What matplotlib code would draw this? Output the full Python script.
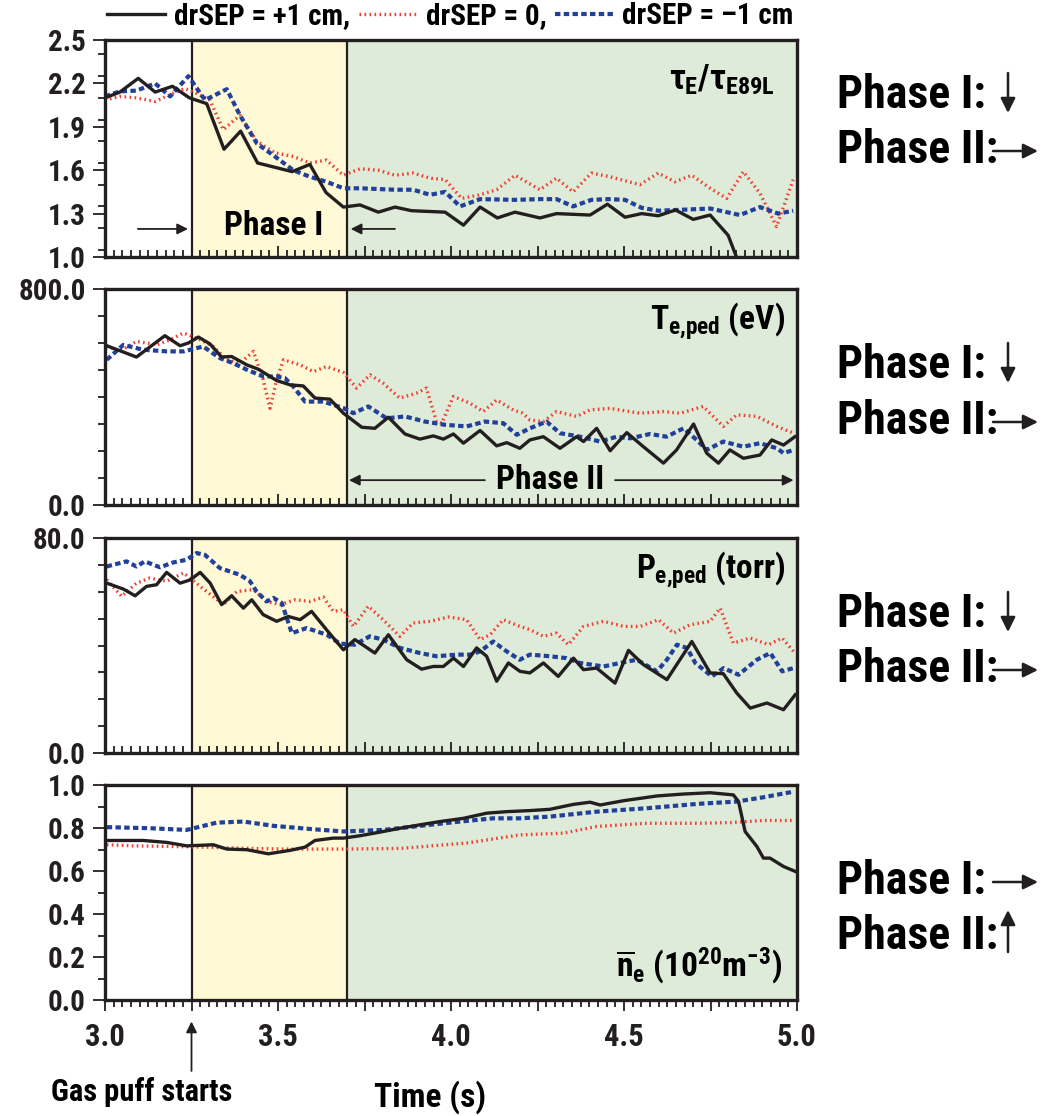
import numpy as np
import matplotlib
matplotlib.use('Agg')
from matplotlib import pyplot as plt
from matplotlib import font_manager
from matplotlib.lines import Line2D
from matplotlib.ticker import MultipleLocator, FixedLocator, FuncFormatter

# ---- data (time in s) ----
# tau_E / tau_E89L
tau_t_plus = [3.0, 3.043, 3.096, 3.145, 3.195, 3.244, 3.294, 3.344, 3.392, 3.441, 3.541, 3.592, 3.639,
              3.689, 3.737, 3.790, 3.838, 3.886, 3.983, 4.036, 4.084, 4.134, 4.185, 4.257, 4.305, 4.402,
              4.452, 4.503, 4.551, 4.599, 4.649, 4.700, 4.749, 4.801, 4.825, 4.85]
tau_plus = [2.10, 2.14, 2.235, 2.14, 2.18, 2.10, 2.06, 1.745, 1.87, 1.65, 1.59, 1.64, 1.445,
            1.345, 1.36, 1.31, 1.345, 1.32, 1.31, 1.22, 1.345, 1.27, 1.31, 1.27, 1.30, 1.29,
            1.365, 1.275, 1.30, 1.285, 1.325, 1.26, 1.29, 1.15, 1.0, 0.85]
tau_t_zero = [3.0, 3.043, 3.091, 3.145, 3.195, 3.231, 3.265, 3.303, 3.342, 3.390, 3.439, 3.491, 3.544,
              3.592, 3.640, 3.689, 3.737, 3.790, 3.838, 3.891, 3.939, 3.983, 4.031, 4.084, 4.132, 4.185,
              4.257, 4.305, 4.353, 4.406, 4.459, 4.546, 4.599, 4.647, 4.696, 4.749, 4.797, 4.845, 4.893,
              4.941, 4.989]
tau_zero = [2.085, 2.11, 2.10, 2.075, 2.13, 2.165, 2.13, 2.085, 1.88, 1.98, 1.80, 1.72, 1.695,
            1.65, 1.67, 1.565, 1.61, 1.60, 1.565, 1.58, 1.545, 1.535, 1.405, 1.43, 1.465, 1.565,
            1.465, 1.545, 1.45, 1.58, 1.555, 1.50, 1.58, 1.52, 1.565, 1.475, 1.405, 1.59, 1.44,
            1.21, 1.535]
tau_t_minus = [3.0, 3.043, 3.091, 3.145, 3.188, 3.241, 3.289, 3.352, 3.390, 3.439, 3.491, 3.544, 3.592,
               3.640, 3.689, 3.737, 3.838, 3.891, 3.939, 3.983, 4.026, 4.084, 4.185, 4.257, 4.305,
               4.353, 4.406, 4.455, 4.503, 4.551, 4.599, 4.652, 4.749, 4.835, 4.893, 4.946, 4.989]
tau_minus = [2.11, 2.145, 2.15, 2.20, 2.11, 2.25, 2.085, 2.16, 1.98, 1.785, 1.695, 1.60, 1.555,
             1.52, 1.475, 1.475, 1.465, 1.465, 1.43, 1.45, 1.35, 1.40, 1.395, 1.40, 1.40,
             1.35, 1.395, 1.40, 1.395, 1.34, 1.32, 1.325, 1.335, 1.29, 1.345, 1.30, 1.32]

# T_e,ped (eV)
te_t_plus = [3.005, 3.091, 3.173, 3.217, 3.241, 3.270, 3.303, 3.337, 3.366, 3.410, 3.443, 3.496, 3.535,
             3.573, 3.607, 3.650, 3.689, 3.742, 3.780, 3.819, 3.867, 3.910, 3.949, 3.978, 4.007, 4.036,
             4.084, 4.132, 4.161, 4.199, 4.228, 4.267, 4.315, 4.363, 4.383, 4.421, 4.460, 4.508, 4.556,
             4.614, 4.652, 4.701, 4.739, 4.773, 4.806, 4.845, 4.893, 4.927, 4.961, 4.994]
te_plus = [590, 548, 627, 590, 600, 622, 597, 548, 550, 519, 503, 461, 445,
           441, 396, 392, 340, 288, 284, 325, 263, 244, 256, 244, 263, 229,
           276, 219, 231, 210, 241, 253, 210, 253, 235, 284, 201, 268, 216,
           155, 204, 300, 192, 155, 204, 173, 185, 241, 222, 253]
te_t_zero = [3.005, 3.043, 3.091, 3.150, 3.188, 3.227, 3.275, 3.313, 3.352, 3.390, 3.429, 3.457, 3.477,
             3.496, 3.516, 3.564, 3.602, 3.640, 3.689, 3.727, 3.766, 3.804, 3.852, 3.900, 3.929, 3.958,
             3.973, 4.007, 4.055, 4.093, 4.132, 4.180, 4.207, 4.228, 4.267, 4.305, 4.363, 4.402, 4.459,
             4.546, 4.614, 4.662, 4.729, 4.787, 4.826, 4.884, 4.942, 4.990]
te_zero = [587, 569, 606, 593, 612, 637, 612, 587, 538, 525, 569, 464, 358,
           464, 538, 519, 494, 513, 491, 433, 482, 451, 396, 414, 433, 309,
           303, 402, 377, 346, 389, 352, 340, 315, 309, 346, 328, 352, 358,
           340, 346, 340, 365, 291, 334, 328, 291, 266]
te_t_minus = [3.005, 3.053, 3.110, 3.178, 3.227, 3.284, 3.332, 3.371, 3.410, 3.457, 3.496, 3.520, 3.544,
              3.578, 3.631, 3.660, 3.689, 3.718, 3.761, 3.814, 3.867, 3.925, 3.983, 4.045, 4.098, 4.151,
              4.190, 4.228, 4.276, 4.315, 4.373, 4.431, 4.479, 4.518, 4.575, 4.623, 4.672, 4.710, 4.739,
              4.787, 4.845, 4.893, 4.942, 4.961, 4.990]
te_minus = [538, 593, 575, 569, 569, 587, 544, 525, 501, 476, 476, 470, 439,
            383, 383, 371, 359, 340, 365, 321, 328, 309, 297, 291, 309, 303,
            260, 284, 309, 266, 253, 235, 253, 247, 263, 253, 284, 241, 204,
            235, 216, 229, 210, 192, 204]

# P_e,ped (torr)
pe_t_plus = [3.005, 3.053, 3.087, 3.120, 3.149, 3.178, 3.217, 3.246, 3.275, 3.304, 3.337, 3.366, 3.400,
             3.424, 3.457, 3.496, 3.530, 3.564, 3.597, 3.640, 3.689, 3.722, 3.780, 3.819, 3.872, 3.915,
             3.949, 3.978, 4.007, 4.036, 4.074, 4.103, 4.132, 4.166, 4.199, 4.228, 4.267, 4.310, 4.354,
             4.383, 4.421, 4.474, 4.513, 4.556, 4.624, 4.696, 4.749, 4.787, 4.826, 4.865, 4.913, 4.961,
             4.995]
pe_plus = [63.2, 61.0, 58.5, 62.0, 62.6, 67.2, 63.2, 64.4, 67.2, 63.2, 55.2, 58.5, 53.9,
           57.0, 51.5, 49.0, 50.8, 49.6, 52.7, 45.9, 38.4, 42.2, 37.2, 44.0, 34.7, 31.2,
           32.2, 32.2, 35.3, 32.2, 39.1, 36.0, 26.7, 33.5, 30.4, 29.8, 33.5, 28.5, 35.3,
           31.0, 31.6, 26.0, 38.2, 32.9, 27.3, 41.5, 29.8, 29.5, 22.3, 16.7, 18.6, 16.1,
           21.7]
pe_t_zero = [3.005, 3.048, 3.091, 3.130, 3.178, 3.227, 3.275, 3.342, 3.381, 3.429, 3.468, 3.506, 3.549,
             3.593, 3.631, 3.660, 3.689, 3.718, 3.761, 3.804, 3.852, 3.891, 3.939, 3.992, 4.045, 4.084,
             4.113, 4.151, 4.199, 4.228, 4.267, 4.305, 4.339, 4.383, 4.441, 4.499, 4.547, 4.600, 4.643,
             4.691, 4.749, 4.778, 4.816, 4.865, 4.918, 4.957, 4.990]
pe_zero = [64.5, 58.3, 63.2, 65.1, 63.9, 67.0, 62.0, 55.2, 60.1, 60.8, 56.4, 55.2, 57.0,
           56.4, 58.0, 52.7, 53.3, 47.1, 54.6, 49.6, 43.4, 48.4, 49.0, 50.6, 49.6, 42.2,
           44.0, 49.6, 47.1, 45.9, 43.4, 44.6, 40.3, 47.1, 49.0, 47.1, 47.1, 49.6, 44.6,
           47.7, 49.0, 53.9, 40.9, 42.8, 40.3, 42.8, 37.8]
pe_t_minus = [3.005, 3.062, 3.091, 3.115, 3.159, 3.197, 3.236, 3.265, 3.289, 3.332, 3.390, 3.419, 3.438,
              3.467, 3.487, 3.511, 3.540, 3.583, 3.641, 3.679, 3.722, 3.765, 3.804, 3.852, 3.910, 3.958,
              4.016, 4.055, 4.084, 4.122, 4.161, 4.199, 4.228, 4.286, 4.334, 4.373, 4.441, 4.489, 4.537,
              4.595, 4.624, 4.653, 4.682, 4.706, 4.754, 4.788, 4.831, 4.884, 4.923, 4.957, 4.990]
pe_minus = [69.4, 71.3, 69.4, 71.3, 69.1, 70.9, 71.9, 74.4, 73.7, 68.8, 66.3, 63.9, 60.1,
            56.4, 57.7, 55.8, 44.6, 46.5, 44.0, 40.7, 40.3, 43.4, 42.2, 39.1, 37.2, 36.0,
            36.6, 36.6, 37.8, 41.5, 37.8, 34.7, 36.6, 36.0, 35.3, 33.5, 32.2, 33.5, 34.7,
            30.4, 34.7, 40.3, 39.1, 33.5, 28.5, 31.6, 29.1, 34.7, 37.2, 30.4, 31.6]

# line-averaged n_e (1e20 m^-3)
ne_t_plus = [3.005, 3.111, 3.178, 3.236, 3.313, 3.352, 3.410, 3.472, 3.535, 3.578, 3.607, 3.660, 3.689,
             3.737, 3.805, 3.853, 3.911, 3.968, 4.036, 4.103, 4.161, 4.228, 4.286, 4.354, 4.402, 4.431,
             4.499, 4.595, 4.672, 4.749, 4.816, 4.831, 4.850, 4.884, 4.903, 4.922, 4.961, 4.995]
ne_plus = [0.742, 0.742, 0.733, 0.717, 0.722, 0.702, 0.699, 0.680, 0.696, 0.711, 0.742, 0.753, 0.753,
           0.764, 0.784, 0.799, 0.815, 0.830, 0.845, 0.869, 0.876, 0.881, 0.887, 0.910, 0.920, 0.907,
           0.927, 0.949, 0.958, 0.964, 0.954, 0.923, 0.784, 0.714, 0.660, 0.660, 0.621, 0.598]
ne_t_zero = [3.005, 3.082, 3.197, 3.294, 3.390, 3.515, 3.689, 3.853, 4.045, 4.199, 4.325, 4.421, 4.566,
             4.711, 4.807, 4.903, 4.990]
ne_zero = [0.722, 0.717, 0.714, 0.711, 0.706, 0.702, 0.702, 0.705, 0.730, 0.768, 0.776, 0.807, 0.822,
           0.822, 0.825, 0.835, 0.835]
ne_t_minus = [3.005, 3.130, 3.236, 3.323, 3.400, 3.487, 3.603, 3.689, 3.805, 3.911, 4.026, 4.122, 4.199,
              4.286, 4.421, 4.566, 4.711, 4.826, 4.903, 4.990]
ne_minus = [0.804, 0.799, 0.791, 0.825, 0.830, 0.810, 0.794, 0.784, 0.791, 0.810, 0.830, 0.845, 0.845,
            0.853, 0.876, 0.892, 0.912, 0.923, 0.943, 0.969]

gas_puff = 3.25
phase2_start = 3.70
labels = ['drSEP = +1 cm,', 'drSEP = 0,', 'drSEP = –1 cm']

# ---- fonts: a condensed bold sans, close to Helvetica Condensed ----
names = {f.name for f in font_manager.fontManager.ttflist}
font = 'DejaVu Sans'
for cand in ['Roboto Condensed', 'Liberation Sans Narrow', 'IBM Plex Sans Condensed', 'Liberation Sans']:
    if cand in names:
        font = cand
        break
plt.rcParams['font.family'] = [font, 'DejaVu Sans']
plt.rcParams['font.weight'] = 'bold'
plt.rcParams['mathtext.fontset'] = 'custom'
for k in ['rm', 'it', 'bf', 'sf']:
    plt.rcParams['mathtext.' + k] = font + ':bold'

BLACK = '#231f20'
RED = '#ef4136'
BLUE = '#21409a'
YELLOW = '#fff9d6'
GREEN = '#dfebd9'
styles = [dict(color=BLACK, lw=2.4, ls='-'),
          dict(color=RED, lw=2.4, ls=(0, (0.5, 1.0)), dash_capstyle='butt'),
          dict(color=BLUE, lw=3.0, ls=(0, (1.3, 0.8)), dash_capstyle='butt')]

W, H = 1059, 1116
fig = plt.figure(figsize=(W / 100, H / 100), dpi=100)

def fx(px):
    return px / W

def fy(py):
    return 1 - py / H

# axes boxes in pixels: top, bottom
boxes = [(40, 257), (289, 505), (538, 753), (785, 1000)]
axes = []
for top, bot in boxes:
    axes.append(fig.add_axes([fx(105), fy(bot), fx(797) - fx(105), (bot - top) / H]))

panels = [
    ((tau_t_plus, tau_plus), (tau_t_zero, tau_zero), (tau_t_minus, tau_minus)),
    ((te_t_plus, te_plus), (te_t_zero, te_zero), (te_t_minus, te_minus)),
    ((pe_t_plus, pe_plus), (pe_t_zero, pe_zero), (pe_t_minus, pe_minus)),
    ((ne_t_plus, ne_plus), (ne_t_zero, ne_zero), (ne_t_minus, ne_minus)),
]
ylims = [(1.0, 2.5), (0, 800), (0, 80), (0, 1.0)]
ymajor = [np.arange(1.0, 2.51, 0.3), [0, 800], [0, 80], np.arange(0, 1.01, 0.2)]
yminor = [0.15, 100, 10, 0.1]

xfmt = FuncFormatter(lambda v, p: '%.1f' % v if abs(v * 2 - round(v * 2)) < 1e-6 else '')

for i, ax in enumerate(axes):
    ax.axvspan(gas_puff, phase2_start, color=YELLOW, lw=0, zorder=0)
    ax.axvspan(phase2_start, 5.0, color=GREEN, lw=0, zorder=0)
    ax.axvline(gas_puff, color=BLACK, lw=1.6, zorder=1)
    ax.axvline(phase2_start, color=BLACK, lw=1.6, zorder=1)
    # red, blue, then black on top
    for k in [1, 2, 0]:
        t, v = panels[i][k]
        ax.plot(t, v, zorder=3 if k == 0 else 2, **styles[k])
    ax.set_xlim(3.0, 5.0)
    ax.set_ylim(*ylims[i])
    ax.yaxis.set_major_locator(FixedLocator(ymajor[i]))
    ax.yaxis.set_minor_locator(MultipleLocator(yminor[i]))
    ax.yaxis.set_major_formatter(FuncFormatter(lambda v, p: '%.1f' % v))
    ax.xaxis.set_major_locator(MultipleLocator(0.25))
    ax.xaxis.set_minor_locator(MultipleLocator(0.025))
    ax.xaxis.set_major_formatter(xfmt)
    for s in ax.spines.values():
        s.set_linewidth(2.4)
        s.set_color(BLACK)
        s.set_zorder(5)
    ax.tick_params(axis='y', which='major', direction='out', length=9, width=1.3,
                   labelsize=21, pad=5, colors=BLACK)
    ax.tick_params(axis='y', which='minor', direction='out', length=5, width=1.3, colors=BLACK)
    xdir = 'out' if i == 3 else 'in'
    ax.tick_params(axis='x', which='major', direction=xdir, length=8, width=1.3,
                   labelsize=22, pad=8, colors=BLACK, labelbottom=(i == 3))
    ax.tick_params(axis='x', which='minor', direction=xdir, length=5, width=1.3, colors=BLACK)
    for lab in ax.get_yticklabels() + ax.get_xticklabels():
        lab.set_fontweight('bold')

# panel titles
axes[0].text(0.968, 0.815, r'$\tau_{E}/\tau_{E89L}$', transform=axes[0].transAxes,
             ha='right', va='center', fontsize=25)
axes[1].text(0.983, 0.85, r'$T_{e{,}ped}$ (eV)', transform=axes[1].transAxes,
             ha='right', va='center', fontsize=24)
axes[2].text(0.983, 0.85, r'$P_{e{,}ped}$ (torr)', transform=axes[2].transAxes,
             ha='right', va='center', fontsize=24)
axes[3].text(0.978, 0.16, r'$\overline{n}_{e}$ (10$^{20}$m$^{-3}$)', transform=axes[3].transAxes,
             ha='right', va='center', fontsize=24)

# phase annotations inside panels
arrow = dict(arrowstyle='-|>', color=BLACK, lw=1.3, mutation_scale=16, shrinkA=0, shrinkB=0)
axes[0].text(3.486, 1.215, 'Phase I', ha='center', va='center', fontsize=24)
axes[0].annotate('', xy=(gas_puff - 0.01, 1.194), xytext=(3.095, 1.194), arrowprops=arrow)
axes[0].annotate('', xy=(phase2_start + 0.01, 1.194), xytext=(3.838, 1.194), arrowprops=arrow)
axes[1].text(4.286, 92, 'Phase II', ha='center', va='center', fontsize=24)
axes[1].annotate('', xy=(phase2_start + 0.005, 92), xytext=(4.098, 92), arrowprops=arrow)
axes[1].annotate('', xy=(4.99, 92), xytext=(4.474, 92), arrowprops=arrow)

# gas puff and time label
axes[3].annotate('', xy=(gas_puff, -0.10), xytext=(gas_puff, -0.33),
                 xycoords=('data', 'axes fraction'), textcoords=('data', 'axes fraction'),
                 arrowprops=arrow)
axes[3].text(3.107, -0.43, 'Gas puff starts', transform=axes[3].get_xaxis_transform(),
             ha='center', va='center', fontsize=22)
axes[3].text(3.94, -0.45, 'Time (s)', transform=axes[3].get_xaxis_transform(),
             ha='center', va='center', fontsize=24)

# right-hand phase trends
rows = [(95, 150), (365, 421), (614, 669), (881, 936)]
trend1 = ['down', 'down', 'down', 'right']
trend2 = ['right', 'right', 'right', 'up']
big_arrow = dict(arrowstyle='-|>', color=BLACK, lw=1.8, mutation_scale=22, shrinkA=0, shrinkB=0)

def trend_arrow(kind, cy):
    if kind == 'down':
        xy, xyt = (fx(1008), fy(cy + 18)), (fx(1008), fy(cy - 22))
    elif kind == 'up':
        xy, xyt = (fx(1008), fy(cy - 26)), (fx(1008), fy(cy + 16))
    else:
        xy, xyt = (fx(1038), fy(cy + 1)), (fx(993), fy(cy + 1))
    axes[0].annotate('', xy=xy, xytext=xyt, xycoords='figure fraction',
                     textcoords='figure fraction', arrowprops=big_arrow)

for (c1, c2), a1, a2 in zip(rows, trend1, trend2):
    fig.text(fx(837), fy(c1), 'Phase I:', ha='left', va='center', fontsize=33)
    fig.text(fx(837), fy(c2), 'Phase II:', ha='left', va='center', fontsize=33)
    trend_arrow(a1, c1)
    trend_arrow(a2, c2)

# legend across the top
handles = [Line2D([], [], **st) for st in styles]
fig.legend(handles, labels, loc='center', bbox_to_anchor=(fx(450), fy(16)), ncol=3,
           frameon=False, fontsize=21, handlelength=2.0, handletextpad=0.3, columnspacing=0.3,
           borderpad=0, borderaxespad=0)

fig.savefig('out.png', dpi=100)
